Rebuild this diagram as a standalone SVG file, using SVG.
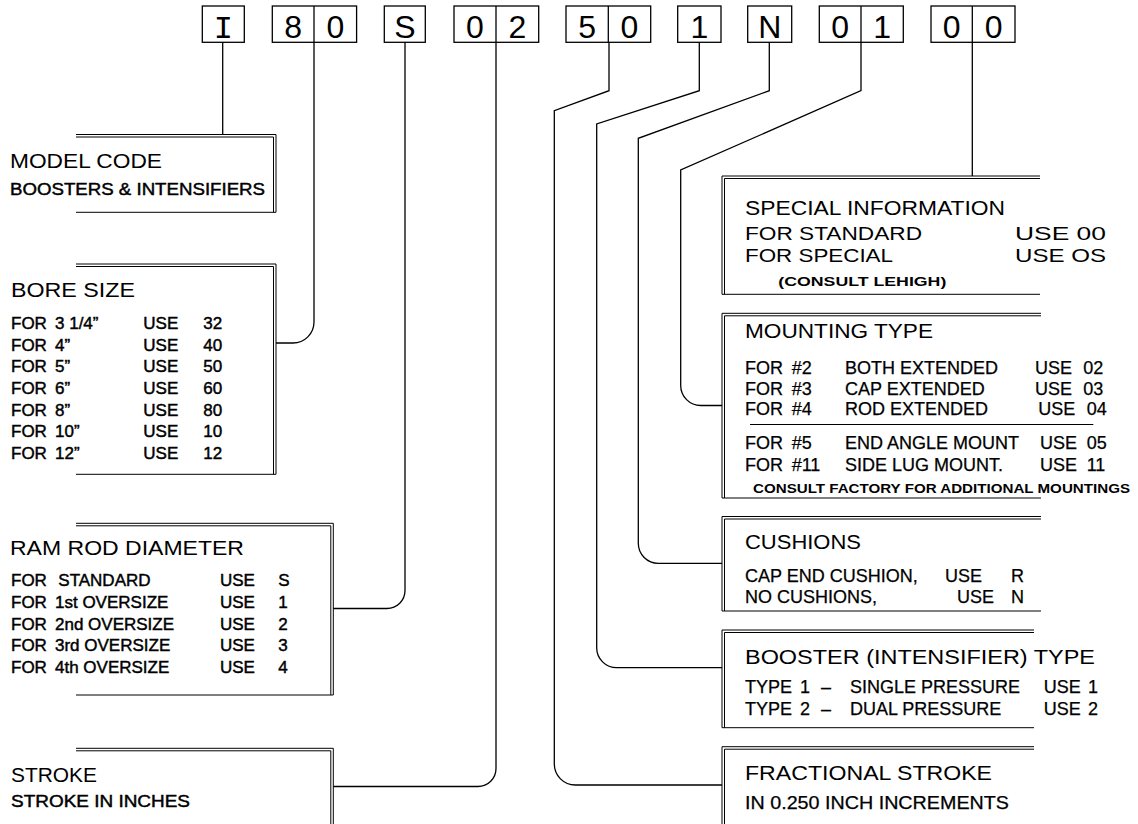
<svg xmlns="http://www.w3.org/2000/svg" width="1138" height="824" viewBox="0 0 1138 824">
<style>
.ln{fill:none;stroke:#000;stroke-width:1.3}
.dl{fill:none;stroke:#000;stroke-width:1}
.cb{fill:none;stroke:#000;stroke-width:1.3}
.cd{font-family:"Liberation Sans",Arial,sans-serif;font-size:32px;text-anchor:middle;fill:#000}
.tt{font-family:"Liberation Sans",Arial,sans-serif;font-size:20px;fill:#000}
.rb{font-family:"Liberation Sans",Arial,sans-serif;font-size:17px;fill:#000;stroke:#000;stroke-width:0.45}
.rr{font-family:"Liberation Sans",Arial,sans-serif;font-size:18px;fill:#000;stroke:#000;stroke-width:0.25}
.sr{font-family:"Liberation Sans",Arial,sans-serif;font-size:19px;fill:#000}
.sm{font-family:"Liberation Sans",Arial,sans-serif;font-size:13px;font-weight:bold;fill:#000}
</style>
<rect width="1138" height="824" fill="#fff"/>

<g id="code">
  <rect class="cb" x="202.3" y="6" width="42" height="36.3"/>
  <rect class="cb" x="272.3" y="6" width="84.3" height="36.3"/><line class="cb" x1="314" y1="6" x2="314" y2="42.3"/>
  <rect class="cb" x="384.3" y="6" width="41" height="36.3"/>
  <rect class="cb" x="454" y="6" width="84.7" height="36.3"/><line class="cb" x1="496" y1="6" x2="496" y2="42.3"/>
  <rect class="cb" x="566" y="6" width="84.7" height="36.3"/><line class="cb" x1="608.3" y1="6" x2="608.3" y2="42.3"/>
  <rect class="cb" x="677.7" y="6" width="43.3" height="36.3"/>
  <rect class="cb" x="747.7" y="6" width="44" height="36.3"/>
  <rect class="cb" x="819.3" y="6" width="84" height="36.3"/><line class="cb" x1="861" y1="6" x2="861" y2="42.3"/>
  <rect class="cb" x="931" y="6" width="84" height="36.3"/><line class="cb" x1="972.3" y1="6" x2="972.3" y2="42.3"/>
  <text class="cd" x="223.3" y="37.7" style="font-family:'Liberation Mono',monospace">I</text>
  <text class="cd" x="293.2" y="37.7">8</text><text class="cd" x="335.4" y="37.7">0</text>
  <text class="cd" x="404.8" y="37.7">S</text>
  <text class="cd" x="475" y="37.7">0</text><text class="cd" x="517.3" y="37.7">2</text>
  <text class="cd" x="587.2" y="37.7">5</text><text class="cd" x="629.5" y="37.7">0</text>
  <text class="cd" x="699.3" y="37.7">1</text>
  <text class="cd" x="769.7" y="37.7">N</text>
  <text class="cd" x="840.2" y="37.7">0</text><text class="cd" x="882.2" y="37.7">1</text>
  <text class="cd" x="951.7" y="37.7">0</text><text class="cd" x="993.7" y="37.7">0</text>
</g>

<g id="connectors">
  <path class="ln" d="M222.7,42.3 V134.5"/>
  <path class="ln" d="M314,42.3 V322 A21,21 0 0 1 293,343 H276"/>
  <path class="ln" d="M405,42.3 V590.5 A18,18 0 0 1 387,608.5 H333.3"/>
  <path class="ln" d="M496,42.3 V768.5 A18,18 0 0 1 478,786.5 H333.3"/>
  <path class="ln" d="M609,42.3 V90.7 L554.3,110.7 V764 A21,21 0 0 0 575.3,785 H722"/>
  <path class="ln" d="M699.3,42.3 V90.7 L596.7,124 V647.7 A20,20 0 0 0 616.7,667.7 H722"/>
  <path class="ln" d="M769.3,42.3 V90.7 L638.3,138.3 V543.3 A20,20 0 0 0 658.3,563.3 H722"/>
  <path class="ln" d="M861,42.3 V90.7 L680.7,170 V385.5 A20,20 0 0 0 700.7,405.5 H722"/>
  <path class="ln" d="M972.3,42.3 V176"/>
</g>

<g id="model-code">
  <path class="dl" d="M76,134.5 H276 V212.3 M76,137 H273.5 V212.3 M76,212.3 H276"/>
  <text class="tt" x="10" y="168" textLength="152" lengthAdjust="spacingAndGlyphs">MODEL CODE</text>
  <text class="rb" x="10" y="195" textLength="255" lengthAdjust="spacingAndGlyphs">BOOSTERS &amp; INTENSIFIERS</text>
</g>

<g id="bore-size">
  <path class="dl" d="M76,264 H276 V474.3 M76,266.5 H273.5 V474.3 M76,474.3 H276"/>
  <text class="tt" x="11" y="296.7" textLength="124" lengthAdjust="spacingAndGlyphs">BORE SIZE</text>
  <text class="rb" y="329"><tspan x="11">FOR</tspan><tspan x="55">3 1/4”</tspan><tspan x="143.3">USE</tspan><tspan x="203.3">32</tspan></text>
  <text class="rb" y="350.7"><tspan x="11">FOR</tspan><tspan x="55">4”</tspan><tspan x="143.3">USE</tspan><tspan x="203.3">40</tspan></text>
  <text class="rb" y="372.3"><tspan x="11">FOR</tspan><tspan x="55">5”</tspan><tspan x="143.3">USE</tspan><tspan x="203.3">50</tspan></text>
  <text class="rb" y="394"><tspan x="11">FOR</tspan><tspan x="55">6”</tspan><tspan x="143.3">USE</tspan><tspan x="203.3">60</tspan></text>
  <text class="rb" y="415.7"><tspan x="11">FOR</tspan><tspan x="55">8”</tspan><tspan x="143.3">USE</tspan><tspan x="203.3">80</tspan></text>
  <text class="rb" y="437.3"><tspan x="11">FOR</tspan><tspan x="55">10”</tspan><tspan x="143.3">USE</tspan><tspan x="203.3">10</tspan></text>
  <text class="rb" y="459"><tspan x="11">FOR</tspan><tspan x="55">12”</tspan><tspan x="143.3">USE</tspan><tspan x="203.3">12</tspan></text>
</g>

<g id="ram-rod-diameter">
  <path class="dl" d="M76,523.3 H333.3 V695 M76,525.8 H330.8 V695 M76,695 H333.3"/>
  <text class="tt" x="10" y="555" textLength="234" lengthAdjust="spacingAndGlyphs">RAM ROD DIAMETER</text>
  <text class="rb" y="586"><tspan x="11">FOR</tspan><tspan x="58.3">STANDARD</tspan><tspan x="220">USE</tspan><tspan x="278.3">S</tspan></text>
  <text class="rb" y="607.8"><tspan x="11">FOR</tspan><tspan x="55">1st OVERSIZE</tspan><tspan x="220">USE</tspan><tspan x="278.3">1</tspan></text>
  <text class="rb" y="629.6"><tspan x="11">FOR</tspan><tspan x="55">2nd OVERSIZE</tspan><tspan x="220">USE</tspan><tspan x="278.3">2</tspan></text>
  <text class="rb" y="651.4"><tspan x="11">FOR</tspan><tspan x="55">3rd OVERSIZE</tspan><tspan x="220">USE</tspan><tspan x="278.3">3</tspan></text>
  <text class="rb" y="673.2"><tspan x="11">FOR</tspan><tspan x="55">4th OVERSIZE</tspan><tspan x="220">USE</tspan><tspan x="278.3">4</tspan></text>
</g>

<g id="stroke">
  <path class="dl" d="M76,748.3 H333.3 V824 M76,750.8 H330.8 V824"/>
  <text class="tt" x="11" y="781.7" textLength="86" lengthAdjust="spacingAndGlyphs">STROKE</text>
  <text class="rb" x="11" y="806.7" textLength="179" lengthAdjust="spacingAndGlyphs">STROKE IN INCHES</text>
</g>

<g id="special-information">
  <path class="dl" d="M1040,176 H722 V294.3 M1040,178.5 H724.5 V294.3 M722,294.3 H1040"/>
  <text class="tt" x="745" y="214.5" textLength="260" lengthAdjust="spacingAndGlyphs">SPECIAL INFORMATION</text>
  <text class="sr" x="745" y="239.5" textLength="177" lengthAdjust="spacingAndGlyphs">FOR STANDARD</text>
  <text class="sr" x="1015" y="239.5" textLength="91" lengthAdjust="spacingAndGlyphs">USE 00</text>
  <text class="sr" x="745" y="262" textLength="148" lengthAdjust="spacingAndGlyphs">FOR SPECIAL</text>
  <text class="sr" x="1015" y="262" textLength="91" lengthAdjust="spacingAndGlyphs">USE OS</text>
  <text class="sm" x="778.3" y="286" textLength="168" lengthAdjust="spacingAndGlyphs">(CONSULT LEHIGH)</text>
</g>

<g id="mounting-type">
  <path class="dl" d="M1041,313.3 H722 V498 M1041,315.8 H724.5 V498 M722,498 H1041"/>
  <line class="dl" x1="750" y1="424.5" x2="1093.3" y2="424.5"/>
  <text class="tt" x="745" y="338" textLength="188" lengthAdjust="spacingAndGlyphs">MOUNTING TYPE</text>
  <text class="rr" y="373.5"><tspan x="745">FOR</tspan><tspan x="791.7">#2</tspan><tspan x="845">BOTH EXTENDED</tspan><tspan x="1035">USE</tspan><tspan x="1083.3">02</tspan></text>
  <text class="rr" y="394.5"><tspan x="745">FOR</tspan><tspan x="791.7">#3</tspan><tspan x="845">CAP EXTENDED</tspan><tspan x="1035">USE</tspan><tspan x="1083.3">03</tspan></text>
  <text class="rr" y="415"><tspan x="745">FOR</tspan><tspan x="791.7">#4</tspan><tspan x="845">ROD EXTENDED</tspan><tspan x="1038.3">USE</tspan><tspan x="1086.7">04</tspan></text>
  <text class="rr" y="448.5"><tspan x="745">FOR</tspan><tspan x="791.7">#5</tspan><tspan x="845">END ANGLE MOUNT</tspan><tspan x="1040">USE</tspan><tspan x="1086.7">05</tspan></text>
  <text class="rr" y="470.5"><tspan x="745">FOR</tspan><tspan x="791.7">#11</tspan><tspan x="845">SIDE LUG MOUNT.</tspan><tspan x="1040">USE</tspan><tspan x="1086.7">11</tspan></text>
  <text class="sm" x="753" y="492.5" textLength="377" lengthAdjust="spacingAndGlyphs">CONSULT FACTORY FOR ADDITIONAL MOUNTINGS</text>
</g>

<g id="cushions">
  <path class="dl" d="M1041,516.5 H722 V611 M1041,519 H724.5 V611 M722,611 H1041"/>
  <text class="tt" x="745" y="549" textLength="116" lengthAdjust="spacingAndGlyphs">CUSHIONS</text>
  <text class="rr" y="581.5"><tspan x="745">CAP END CUSHION,</tspan><tspan x="945">USE</tspan><tspan x="1011">R</tspan></text>
  <text class="rr" y="603"><tspan x="745">NO CUSHIONS,</tspan><tspan x="957">USE</tspan><tspan x="1011">N</tspan></text>
</g>

<g id="booster-type">
  <path class="dl" d="M1034,630 H722 V727.7 M1034,632.5 H724.5 V727.7 M722,727.7 H1034"/>
  <text class="tt" x="745" y="664" textLength="350" lengthAdjust="spacingAndGlyphs">BOOSTER (INTENSIFIER) TYPE</text>
  <text class="rr" y="693"><tspan x="745">TYPE</tspan><tspan x="800">1</tspan><tspan x="821">–</tspan><tspan x="850">SINGLE PRESSURE</tspan><tspan x="1043.8">USE</tspan><tspan x="1088">1</tspan></text>
  <text class="rr" y="715.3"><tspan x="745">TYPE</tspan><tspan x="800">2</tspan><tspan x="821">–</tspan><tspan x="850">DUAL PRESSURE</tspan><tspan x="1043.8">USE</tspan><tspan x="1088">2</tspan></text>
</g>

<g id="fractional-stroke">
  <path class="dl" d="M1034,746.7 H722 V824 M1034,749.2 H724.5 V824"/>
  <text class="tt" x="745" y="780" textLength="247" lengthAdjust="spacingAndGlyphs">FRACTIONAL STROKE</text>
  <text class="rr" x="745" y="809" textLength="264" lengthAdjust="spacingAndGlyphs">IN 0.250 INCH INCREMENTS</text>
</g>
</svg>
